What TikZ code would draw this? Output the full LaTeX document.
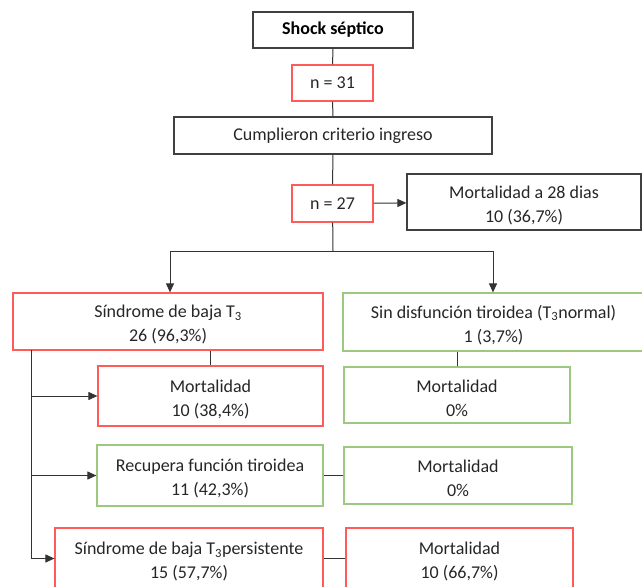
\documentclass[tikz,border=0pt]{standalone}
\usepackage{fontspec}
\setmainfont{Carlito}
\usepackage{tikz}
\usetikzlibrary{arrows.meta, positioning, calc}
\definecolor{boxred}{HTML}{FF5B5B}
\definecolor{boxgreen}{HTML}{9BC97F}
\definecolor{boxdark}{HTML}{404040}
\definecolor{txtgray}{HTML}{262626}
\newcommand{\tup}{\rule{0pt}{19pt}}
\tikzset{
    box/.style={draw=boxdark, line width=1.2pt, inner sep=0pt, align=center,
        text=txtgray, font=\fontsize{18}{24}\selectfont},
    redbox/.style={box, draw=boxred},
    greenbox/.style={box, draw=boxgreen},
    link/.style={draw=black!80, line width=1pt},
    arr/.style={link, -{Triangle[length=9pt,width=8pt]}}
}

\begin{document}
\begin{tikzpicture}[x=1pt, y=-1pt]
    % Canvas
    \clip (0,0) rectangle (642,586);
    % Top column
    \node[box, minimum width=160, minimum height=36, font=\fontsize{18}{24}\selectfont\bfseries, text=black]
        (shock) at (333,30) {Shock séptico};
    \node[redbox, minimum width=81, minimum height=36] (n31) at (332.5,83) {n = 31};
    \node[box, minimum width=318, minimum height=37] (cumpl) at (333,135.5) {Cumplieron criterio ingreso};
    \node[redbox, minimum width=81, minimum height=37] (n27) at (332.5,203.5) {n = 27};
    \node[box, minimum width=234, minimum height=56] (mort28) at (524,202)
        {\tup Mortalidad a 28 dias\\10 (36,7\%)};
    % Branches
    \node[redbox, minimum width=310, minimum height=57] (sindrome) at (168,321.5)
        {\tup Síndrome de baja T\textsubscript{3}\\26 (96,3\%)};
    \node[greenbox, minimum width=301, minimum height=58] (sindisf) at (493.5,322)
        {\tup Sin disfunción tiroidea (T\textsubscript{3}normal)\\1 (3,7\%)};
    % Left side
    \node[redbox, minimum width=225, minimum height=60] (mortA) at (210.5,396)
        {\tup Mortalidad\\10 (38,4\%)};
    \node[greenbox, minimum width=226, minimum height=61] (recup) at (210,475.5)
        {\tup Recupera función tiroidea\\11 (42,3\%)};
    \node[redbox, minimum width=268, minimum height=61] (persist) at (189,558.5)
        {\tup Síndrome de baja T\textsubscript{3}persistente\\15 (57,7\%)};
    % Right side
    \node[greenbox, minimum width=226, minimum height=56] (mortB) at (457,395)
        {\tup Mortalidad\\0\%};
    \node[greenbox, minimum width=228, minimum height=57] (mortC) at (458,475.5)
        {\tup Mortalidad\\0\%};
    \node[redbox, minimum width=227, minimum height=61] (mortD) at (459.5,558.5)
        {\tup Mortalidad\\10 (66,7\%)};
    % Split points
    \coordinate (split) at (333,251);
    \coordinate (splitL) at (170,251);
    \coordinate (splitR) at (493,251);
    \coordinate (trunk) at (31,350);
    % Connectors
    \draw[link] (shock) -- (n31);
    \draw[link] (n31) -- (cumpl);
    \draw[link] (cumpl) -- (n27);
    \draw[arr] (n27) -- (mort28);
    \draw[link] (n27) -- (split);
    \draw[link] (splitL) -- (splitR);
    \draw[arr] (splitL) -- (splitL |- sindrome.north);
    \draw[arr] (splitR) -- (splitR |- sindisf.north);
    \draw[link] (mortA.north) -- (mortA.north |- sindrome.south);
    \draw[link] (mortB.north) -- (mortB.north |- sindisf.south);
    \draw[link] (trunk) -- (trunk |- persist.west);
    \draw[arr] (trunk |- mortA.west) -- (mortA.west);
    \draw[arr] (trunk |- recup.west) -- (recup.west);
    \draw[arr] (trunk |- persist.west) -- (persist.west);
    \draw[link] (recup) -- (mortC);
    \draw[link] (persist) -- (mortD);
\end{tikzpicture}
\end{document}
